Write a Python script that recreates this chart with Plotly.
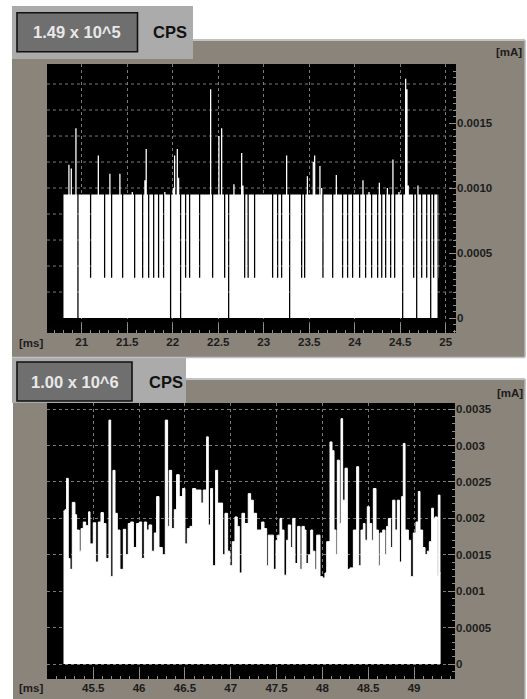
import plotly.graph_objects as go

# ---------------- data: top panel (1.49 x 10^5 CPS) ----------------
top_start, top_end = 20.80, 24.91          # ms, extent of recorded signal
top_level = 0.00095                        # plateau level [mA]
top_spike_t = [20.853, 20.879, 20.930, 21.176, 21.303, 21.413, 21.549, 21.688, 21.699,
               21.904, 22.000, 22.011, 22.044, 22.055, 22.410, 22.501, 22.531, 22.666,
               22.751, 22.762, 23.245, 23.473, 23.538, 23.553, 23.611, 23.630, 23.791,
               24.084, 24.150, 24.264, 24.352, 24.413, 24.479, 24.553, 24.564, 24.575,
               24.681]
top_spike_v = [0.00118, 0.00115, 0.00146, 0.00125, 0.00111, 0.00111, 0.00097, 0.00106, 0.00130,
               0.00097, 0.00100, 0.00125, 0.00130, 0.00108, 0.00176, 0.00140, 0.00146, 0.00103,
               0.00127, 0.00102, 0.00125, 0.00109, 0.00120, 0.00125, 0.00117, 0.00100, 0.00110,
               0.00106, 0.00097, 0.00104, 0.00100, 0.00122, 0.00097, 0.00184, 0.00176, 0.00102,
               0.00102]
top_drop_t = [20.952, 21.091, 21.245, 21.322, 21.443, 21.575, 21.663, 21.729, 21.784, 21.838,
              21.893, 21.970, 22.080, 22.135, 22.179, 22.289, 22.432, 22.564, 22.608, 22.784,
              22.822, 22.893, 23.091, 23.146, 23.190, 23.278, 23.410, 23.443, 23.641, 23.751,
              23.860, 23.915, 23.970, 24.047, 24.113, 24.179, 24.245, 24.290, 24.333, 24.388,
              24.432, 24.520, 24.641, 24.674, 24.729, 24.784, 24.828, 24.860, 24.904]
top_drop_v = [0.0, 0.00031, 0.00031, 0.00031, 0.00031, 0.00031, 0.00031, 0.00031, 0.00031, 0.00031,
              0.00031, 0.0, 0.0, 0.00031, 0.00031, 0.00031, 0.00031, 0.00031, 0.0, 0.00031,
              0.00031, 0.00031, 0.00031, 0.00031, 0.00031, 0.0, 0.00031, 0.00031, 0.00031, 0.00031,
              0.00031, 0.00031, 0.00031, 0.00031, 0.00031, 0.00031, 0.00031, 0.00031, 0.00031, 0.00031,
              0.00031, 0.0, 0.00031, 0.0, 0.00031, 0.00031, 0.0, 0.00031, 0.00031]
top_x_ticks = [21, 21.5, 22, 22.5, 23, 23.5, 24, 24.5, 25]
top_x_labels = ["21", "21.5", "22", "22.5", "23", "23.5", "24", "24.5", "25"]
top_y_ticks = [0, 0.0005, 0.0010, 0.0015]
top_y_labels = ["0", "0.0005", "0.0010", "0.0015"]
top_y_grid = [0.0002, 0.0004, 0.0006, 0.0008, 0.0010, 0.0012, 0.0014, 0.0016, 0.0018]

# ---------------- data: bottom panel (1.00 x 10^6 CPS) ----------------
bot_t = [45.175, 45.191, 45.209, 45.227, 45.246, 45.271, 45.300, 45.318, 45.347, 45.366,
         45.391, 45.417, 45.449, 45.464, 45.500, 45.526, 45.555, 45.584, 45.610, 45.638,
         45.671, 45.690, 45.715, 45.737, 45.762, 45.791, 45.828, 45.853, 45.882, 45.908,
         45.937, 45.973, 46.002, 46.028, 46.057, 46.082, 46.108, 46.137, 46.166, 46.191,
         46.217, 46.253, 46.286, 46.311, 46.329, 46.355, 46.384, 46.409, 46.438, 46.475,
         46.500, 46.526, 46.555, 46.584, 46.617, 46.646, 46.675, 46.700, 46.737, 46.755,
         46.780, 46.802, 46.835, 46.857, 46.886, 46.911, 46.937, 46.966, 46.991, 47.017,
         47.046, 47.071, 47.093, 47.122, 47.151, 47.191, 47.217, 47.246, 47.282, 47.337,
         47.363, 47.392, 47.410, 47.435, 47.465, 47.494, 47.512, 47.537, 47.556, 47.581,
         47.610, 47.628, 47.654, 47.676, 47.701, 47.730, 47.756, 47.777, 47.803, 47.821,
         47.847, 47.872, 47.894, 47.919, 47.938, 47.974, 48.003, 48.028, 48.047, 48.083,
         48.105, 48.127, 48.148, 48.163, 48.185, 48.203, 48.221, 48.247, 48.272, 48.301,
         48.338, 48.356, 48.374, 48.396, 48.421, 48.447, 48.465, 48.490, 48.512, 48.538,
         48.556, 48.585, 48.611, 48.629, 48.658, 48.683, 48.701, 48.720, 48.745, 48.767,
         48.792, 48.818, 48.840, 48.865, 48.883, 48.902, 48.938, 48.963, 48.992, 49.021,
         49.047, 49.065, 49.094, 49.120, 49.145, 49.167, 49.192, 49.211, 49.229, 49.254,
         49.265, 49.283, 49.290]
bot_v = [2.10, 2.12, 2.55, 1.45, 1.30, 2.22, 2.05, 1.84, 1.55, 1.86,
         1.95, 1.90, 2.09, 1.65, 1.94, 1.40, 1.95, 2.08, 1.93, 1.45,
         3.35, 1.20, 2.66, 2.07, 1.84, 1.30, 1.85, 1.50, 1.93, 1.95,
         1.60, 1.93, 1.95, 1.45, 1.95, 1.84, 1.91, 1.55, 1.80, 2.30,
         1.60, 1.50, 3.35, 1.89, 2.66, 1.86, 2.12, 2.60, 2.30, 2.41,
         1.65, 1.86, 1.89, 2.41, 2.39, 2.39, 2.21, 2.39, 3.12, 1.91,
         2.41, 1.35, 2.66, 2.21, 2.21, 1.50, 2.07, 1.55, 1.35, 1.68,
         2.02, 1.89, 1.25, 2.07, 1.93, 2.34, 2.25, 2.07, 1.84, 1.95,
         1.86, 1.35, 1.77, 1.77, 1.30, 1.70, 1.77, 2.00, 1.84, 1.22,
         1.70, 1.91, 1.60, 2.00, 1.38, 1.89, 1.30, 1.89, 1.84, 1.38,
         1.50, 1.84, 1.55, 1.30, 1.77, 1.20, 1.18, 1.25, 1.68, 3.05,
         2.93, 1.84, 1.50, 2.80, 1.93, 3.37, 2.25, 2.69, 1.30, 1.32,
         1.84, 1.84, 2.71, 1.35, 1.84, 1.93, 1.70, 2.16, 1.93, 1.70,
         2.41, 1.84, 1.35, 1.80, 1.84, 1.50, 1.89, 2.00, 1.60, 2.25,
         1.84, 2.25, 1.40, 2.30, 3.03, 1.84, 1.70, 1.20, 1.80, 1.95,
         2.37, 1.84, 1.60, 1.50, 1.55, 1.68, 2.14, 2.00, 2.02, 1.22,
         2.32, 1.25, 1.25]
bot_v_ma = [v * 1e-3 for v in bot_v]
bot_x_ticks = [45.5, 46, 46.5, 47, 47.5, 48, 48.5, 49]
bot_x_labels = ["45.5", "46", "46.5", "47", "47.5", "48", "48.5", "49"]
bot_y_ticks = [0, 0.0005, 0.001, 0.0015, 0.002, 0.0025, 0.003, 0.0035]
bot_y_labels = ["0", "0.0005", "0.001", "0.0015", "0.002", "0.0025", "0.003", "0.0035"]

tab_values = ["1.49 x 10^5", "1.00 x 10^6"]
unit_label = "CPS"

# ---------------- geometry / styles ----------------
W, H = 527, 699
FRAME = "#8a847a"
TAB = "#ababab"
BOX = "#6f6f6f"
GRID = "#7a7a7a"
TICK = "#8e8e8e"
TXT = "#1c1c1c"
FONT = "Liberation Sans, Arial, sans-serif"


def px_x(x):
    return x / W


def px_y(y):
    return 1 - y / H


def step_series(start, end, level, ev_t, ev_v, width):
    ev = sorted(zip(ev_t, ev_v))
    xs, ys = [start], [level]
    for t, v in ev:
        t0 = max(t, xs[-1] + 1e-4)
        xs += [t0, t0 + width]
        ys += [v, level]
    xs.append(end)
    ys.append(level)
    return xs, ys


fig = go.Figure()

tx, ty = step_series(top_start, top_end, top_level,
                     top_spike_t + top_drop_t, top_spike_v + top_drop_v, 0.014)
fig.add_trace(go.Scatter(x=tx, y=ty, mode="lines", line=dict(width=0, shape="hv", color="white"),
                         fill="tozeroy", fillcolor="white", xaxis="x", yaxis="y",
                         hoverinfo="skip", showlegend=False))
fig.add_trace(go.Scatter(x=bot_t, y=bot_v_ma, mode="lines",
                         line=dict(width=1, shape="hv", color="white"),
                         fill="tozeroy", fillcolor="white", xaxis="x2", yaxis="y2",
                         hoverinfo="skip", showlegend=False))

shapes = []
# panel frames
for (x0, y0, x1, y1) in [(12, 40, 525, 357), (13, 379, 525, 699)]:
    shapes.append(dict(type="rect", xref="paper", yref="paper", layer="below",
                       x0=px_x(x0), x1=px_x(x1), y0=px_y(y1), y1=px_y(y0),
                       fillcolor=FRAME, line=dict(width=0)))
    shapes.append(dict(type="line", xref="paper", yref="paper", layer="below",
                       x0=px_x(x0), x1=px_x(x1), y0=px_y(y0), y1=px_y(y0),
                       line=dict(color="#c2c2c2", width=2)))
    shapes.append(dict(type="line", xref="paper", yref="paper", layer="below",
                       x0=px_x(x1), x1=px_x(x1), y0=px_y(y1), y1=px_y(y0),
                       line=dict(color="#b4b4b4", width=1.5)))
shapes.append(dict(type="line", xref="paper", yref="paper", layer="below",
                   x0=px_x(12), x1=px_x(525), y0=px_y(357.5), y1=px_y(357.5),
                   line=dict(color="#c2c2c2", width=1.5)))
# tabs
for (x0, y0, x1, y1), (bx0, by0, bx1, by1) in [((12, 6, 193, 59), (17, 12.7, 137.5, 51.7)),
                                               ((12, 358, 186, 403), (17, 362, 132, 401))]:
    shapes.append(dict(type="rect", xref="paper", yref="paper", layer="below",
                       x0=px_x(x0), x1=px_x(x1), y0=px_y(y1), y1=px_y(y0),
                       fillcolor=TAB, line=dict(width=0)))
    shapes.append(dict(type="rect", xref="paper", yref="paper", layer="below",
                       x0=px_x(bx0), x1=px_x(bx1), y0=px_y(by1), y1=px_y(by0),
                       fillcolor=BOX, line=dict(color="#111111", width=1.6)))
# black plot areas
for (x0, y0, x1, y1) in [(47, 64, 456, 333), (47, 403, 455, 679)]:
    shapes.append(dict(type="rect", xref="paper", yref="paper", layer="below",
                       x0=px_x(x0), x1=px_x(x1), y0=px_y(y1), y1=px_y(y0),
                       fillcolor="black", line=dict(width=0)))
# top panel horizontal grid (finer than labels)
for g in top_y_grid:
    shapes.append(dict(type="line", xref="x domain", yref="y", layer="below",
                       x0=0, x1=1, y0=g, y1=g, line=dict(color=GRID, width=1, dash="dot")))

annotations = []
for txt, (cx, cy) in zip(tab_values, [(77, 32.5), (74.5, 381.5)]):
    annotations.append(dict(text=txt, x=px_x(cx), y=px_y(cy), xref="paper", yref="paper",
                            showarrow=False, xanchor="center", yanchor="middle",
                            font=dict(family=FONT, size=16.5, color="#e8e8e8", weight="bold")))
for cx, cy in [(169.5, 32.5), (166, 381.5)]:
    annotations.append(dict(text=unit_label, x=px_x(cx), y=px_y(cy), xref="paper", yref="paper",
                            showarrow=False, xanchor="center", yanchor="middle",
                            font=dict(family=FONT, size=16.5, color="#111111", weight="bold")))
for txt, (cx, cy) in [("[mA]", (509, 52)), ("[mA]", (510, 393)),
                      ("[ms]", (31, 343)), ("[ms]", (31, 688))]:
    annotations.append(dict(text=txt, x=px_x(cx), y=px_y(cy), xref="paper", yref="paper",
                            showarrow=False, xanchor="center", yanchor="middle",
                            font=dict(family=FONT, size=11.5, color=TXT, weight="bold")))

tickfont = dict(family=FONT, size=11.5, color=TXT, weight="bold")

fig.update_layout(
    width=W, height=H, margin=dict(l=0, r=0, t=0, b=0),
    paper_bgcolor="white", plot_bgcolor="black",
    shapes=shapes, annotations=annotations, showlegend=False,
    xaxis=dict(domain=[px_x(47), px_x(456)], anchor="y", range=[20.619, 25.113],
               tickmode="array", tickvals=top_x_ticks, ticktext=top_x_labels,
               ticks="inside", ticklen=9, tickcolor=TICK, tickwidth=1,
               showgrid=True, gridcolor=GRID, griddash="dot", gridwidth=1,
               zeroline=False, showline=False, tickfont=tickfont,
               minor=dict(dtick=0.1, tick0=0, ticks="inside", ticklen=3, tickcolor=TICK,
                          showgrid=False)),
    yaxis=dict(domain=[px_y(333), px_y(64)], anchor="x", side="right",
               range=[-0.000115, 0.001954],
               tickmode="array", tickvals=top_y_ticks, ticktext=top_y_labels,
               ticks="inside", ticklen=7, tickcolor=TICK, showgrid=False,
               zeroline=False, showline=False, tickfont=tickfont,
               minor=dict(dtick=0.00005, tick0=0, ticks="inside", ticklen=3,
                          tickcolor=TICK, showgrid=False)),
    xaxis2=dict(domain=[px_x(47), px_x(455)], anchor="y2", range=[44.995, 49.447],
                tickmode="array", tickvals=bot_x_ticks, ticktext=bot_x_labels,
                ticks="inside", ticklen=9, tickcolor=TICK, tickwidth=1,
                showgrid=True, gridcolor=GRID, griddash="dot", gridwidth=1,
                zeroline=False, showline=False, tickfont=tickfont,
                minor=dict(dtick=0.1, tick0=0, ticks="inside", ticklen=3, tickcolor=TICK,
                           showgrid=False)),
    yaxis2=dict(domain=[px_y(679), px_y(403)], anchor="x2", side="right",
                range=[-0.000206, 0.003585],
                tickmode="array", tickvals=bot_y_ticks, ticktext=bot_y_labels,
                ticks="inside", ticklen=7, tickcolor=TICK,
                showgrid=True, gridcolor=GRID, griddash="dot", gridwidth=1,
                zeroline=False, showline=False, tickfont=tickfont,
                minor=dict(dtick=0.0001, tick0=0, ticks="inside", ticklen=3,
                           tickcolor=TICK, showgrid=False)),
)

fig.write_html("out.html", config={"displayModeBar": False},
               post_script="document.body.style.margin='0';"
                           "document.body.style.padding='0';"
                           "document.body.style.overflow='hidden';")
